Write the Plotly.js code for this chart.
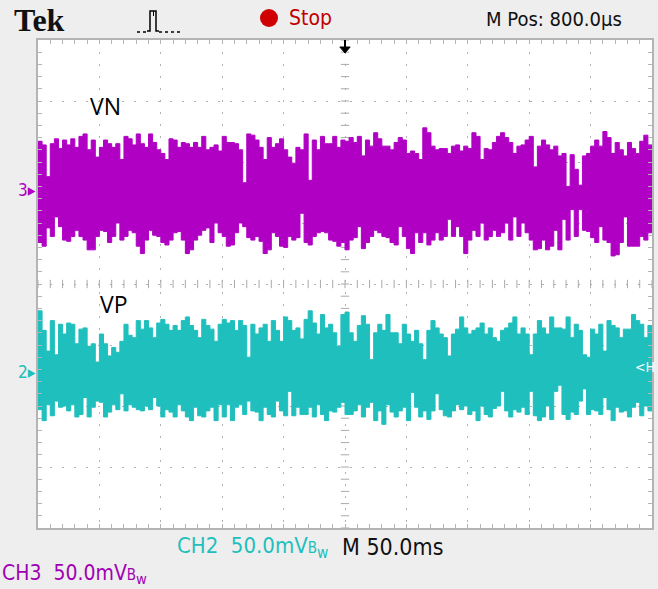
<!DOCTYPE html>
<html>
<head>
<meta charset="utf-8">
<script src="https://cdn.plot.ly/plotly-3.0.1.min.js"></script>
<style>html,body{margin:0;padding:0;background:#eeeeee;}#chart{width:658px;height:589px;}</style>
</head>
<body>
<div id="chart"></div>
<script>
// Time base: 10 divisions x 50 ms
const timeSpanMs = 500;
// CH3 (VN) envelope per column, mV relative to channel ground
const vnTop = [40,37,11,38,42,34,41,37,42,35,44,46,33,41,27,35,41,38,35,38,25,44,42,37,46,38,35,46,39,33,30,25,42,41,35,39,38,35,39,35,44,33,35,37,32,44,39,39,38,33,6,46,45,41,35,25,43,35,38,42,33,27,22,35,33,46,8,41,33,44,38,38,44,35,41,40,
43,39,44,28,41,36,47,42,36,36,33,39,43,41,30,32,30,25,51,47,36,33,34,34,30,36,37,32,36,34,47,44,25,34,33,39,44,47,43,39,30,36,37,41,44,19,36,41,37,33,36,28,30,3,29,17,4,28,30,36,41,36,48,43,30,39,33,28,39,34,30,40,45,37];
const vnBot = [-43,-46,-31,-38,-22,-30,-41,-42,-38,-33,-38,-41,-49,-49,-38,-33,-34,-43,-38,-27,-41,-38,-33,-35,-46,-52,-41,-33,-37,-38,-43,-45,-41,-35,-34,-41,-52,-49,-41,-37,-33,-31,-43,-27,-35,-38,-46,-45,-35,-27,-30,-39,-41,-38,-42,-52,-49,-35,-38,-46,-47,-38,-41,-39,-19,-43,-45,-38,-35,-34,-35,-41,-42,-46,-43,-49,
-41,-39,-30,-48,-43,-38,-33,-35,-38,-39,-43,-45,-30,-38,-48,-52,-35,-43,-35,-45,-41,-35,-41,-38,-24,-38,-30,-38,-52,-41,-33,-38,-27,-41,-38,-33,-38,-35,-27,-41,-22,-38,-27,-35,-41,-49,-48,-41,-49,-46,-33,-49,-24,-41,-16,-38,-16,-33,-34,-39,-43,-30,-41,-43,-54,-53,-43,-22,-46,-46,-46,-38,-41,-35];
// CH2 (VP) envelope per column, mV relative to channel ground
const vpTop = [50,34,17,42,14,39,31,40,39,23,35,36,21,23,8,31,23,13,20,16,25,39,30,28,42,35,42,36,28,40,43,39,34,38,34,42,45,38,34,28,43,38,35,25,39,43,40,42,34,42,38,12,39,31,36,39,25,42,34,25,45,42,34,36,27,43,50,40,31,47,36,39,32,21,47,49,
32,25,38,46,39,10,32,39,34,47,32,32,23,39,31,25,34,23,10,34,42,36,31,28,13,31,35,45,36,31,34,36,40,31,36,28,25,34,36,40,45,31,36,31,14,31,42,36,31,45,36,36,35,45,28,39,34,14,12,35,31,39,17,42,38,36,28,35,35,47,42,39,28,38];
const vpBot = [-31,-40,-27,-36,-24,-29,-28,-32,-27,-37,-35,-21,-37,-29,-24,-25,-37,-33,-27,-31,-18,-32,-27,-29,-31,-32,-28,-31,-21,-28,-37,-31,-33,-37,-27,-32,-37,-40,-29,-36,-37,-32,-29,-40,-27,-37,-27,-40,-29,-27,-35,-24,-32,-33,-40,-29,-35,-37,-24,-32,-36,-16,-36,-29,-35,-35,-29,-37,-27,-35,-40,-32,-33,-29,-25,-35,
-35,-32,-27,-37,-29,-25,-40,-32,-43,-27,-33,-37,-32,-29,-40,-17,-29,-37,-32,-39,-32,-18,-31,-36,-37,-32,-27,-31,-28,-35,-32,-40,-28,-35,-37,-30,-28,-16,-32,-37,-31,-33,-29,-35,-16,-36,-40,-37,-28,-39,-16,-11,-35,-39,-33,-35,-24,-14,-35,-31,-32,-35,-21,-31,-40,-29,-33,-32,-37,-29,-25,-36,-28,-32];
const channelLabels = ['VN', 'VP'];

// ---- styling / placement ----
const magenta = '#b000c4', cyan = '#1fbfbd';
const ch3Offset = 77, ch2Offset = -72;   // display position of channel grounds (mV on screen)
const L = 38, R = 652, T = 40, B = 528;
const px = x => (x - L) / (R - L);
const py = y => (B - y) / (B - T);
const scopeFont = 'Liberation Sans Narrow, DejaVu Sans Condensed, Arial Narrow, sans-serif';
const bw = '<span style="font-size:15px">B</span><sub>w</sub>';

function band(top, bot, offset, color) {
  const n = top.length, dt = timeSpanMs / n;
  const x = top.map((_, i) => i * dt); x.push(timeSpanMs);
  const yt = top.map(v => v + offset); yt.push(yt[n - 1]);
  const yb = bot.map(v => v + offset); yb.push(yb[n - 1]);
  return [
    {x: x, y: yb, mode: 'lines', line: {shape: 'hv', width: 1, color: color}, hoverinfo: 'skip'},
    {x: x, y: yt, mode: 'lines', line: {shape: 'hv', width: 1, color: color}, fill: 'tonexty', fillcolor: color, hoverinfo: 'skip'}
  ];
}

// center graticule tick marks
const cx = [];
for (let t = 0; t <= timeSpanMs; t += 10) { cx.push(t); }
const hy = [];
for (let v = -200; v <= 200; v += 10) { hy.push(v); }
const centerTicksX = {x: cx, y: cx.map(() => 0), mode: 'markers', marker: {symbol: 'line-ns', size: 6, line: {width: 1, color: '#aaaaaa'}}, hoverinfo: 'skip'};
const centerTicksY = {x: hy.map(() => timeSpanMs / 2), y: hy, mode: 'markers', marker: {symbol: 'line-ew', size: 6, line: {width: 1, color: '#aaaaaa'}}, hoverinfo: 'skip'};

const data = [centerTicksX, centerTicksY].concat(band(vnTop, vnBot, ch3Offset, magenta), band(vpTop, vpBot, ch2Offset, cyan));

const ann = (x, y, text, opts) => Object.assign({xref: 'paper', yref: 'paper', x: px(x), y: py(y), text: text, showarrow: false, xanchor: 'left', yanchor: 'middle'}, opts || {});

const layout = {
  width: 658, height: 589,
  margin: {l: L, r: 658 - R, t: T, b: 589 - B},
  paper_bgcolor: '#eeeeee', plot_bgcolor: '#ffffff',
  showlegend: false,
  xaxis: {range: [0, timeSpanMs], dtick: 50, showticklabels: false, showgrid: true, gridcolor: '#b0b0b0', griddash: '2px,10px', gridwidth: 1,
          zeroline: false, showline: true, linecolor: '#b4b4b4', linewidth: 2, mirror: 'ticks', ticks: 'inside', ticklen: 4, tickcolor: '#b4b4b4',
          minor: {dtick: 10, ticks: 'inside', ticklen: 4, tickcolor: '#b4b4b4', showgrid: false}, fixedrange: true},
  yaxis: {range: [-200, 200], dtick: 50, showticklabels: false, showgrid: true, gridcolor: '#b0b0b0', griddash: '2px,10px', gridwidth: 1,
          zeroline: false, showline: true, linecolor: '#b4b4b4', linewidth: 2, mirror: 'ticks', ticks: 'inside', ticklen: 4, tickcolor: '#b4b4b4',
          minor: {dtick: 10, ticks: 'inside', ticklen: 4, tickcolor: '#b4b4b4', showgrid: false}, fixedrange: true},
  shapes: [
    // Stop indicator dot
    {type: 'circle', xref: 'paper', yref: 'paper', x0: px(260), x1: px(278), y0: py(27), y1: py(9), fillcolor: '#d00000', line: {width: 0}},
    // trigger icon
    {type: 'path', xref: 'paper', yref: 'paper', path: `M ${px(147)} ${py(31)} L ${px(150)} ${py(31)} L ${px(150)} ${py(11)} L ${px(156)} ${py(11)} L ${px(156)} ${py(31)} L ${px(159)} ${py(31)}`, line: {color: '#000', width: 1.5}},
    {type: 'path', xref: 'paper', yref: 'paper', path: `M ${px(153.5)} ${py(11)} L ${px(153.5)} ${py(16)}`, line: {color: '#000', width: 1}},
    {type: 'path', xref: 'paper', yref: 'paper', path: `M ${px(137)} ${py(32)} L ${px(147)} ${py(32)}`, line: {color: '#000', width: 1.5, dash: 'dot'}},
    {type: 'path', xref: 'paper', yref: 'paper', path: `M ${px(159)} ${py(32)} L ${px(180)} ${py(32)}`, line: {color: '#000', width: 1.5, dash: 'dot'}},
    // trigger position arrow
    {type: 'path', xref: 'x', yref: 'paper', path: `M ${timeSpanMs/2 - 4.2} ${py(47)} L ${timeSpanMs/2 + 4.2} ${py(47)} L ${timeSpanMs/2} ${py(53)} Z`, fillcolor: '#000', line: {color: '#000', width: 1}},
    {type: 'line', xref: 'x', yref: 'paper', x0: timeSpanMs/2, x1: timeSpanMs/2, y0: py(40), y1: py(48), line: {color: '#000', width: 2}}
  ],
  annotations: [
    ann(12, 20, '<b>Tek</b>', {font: {family: 'Liberation Serif, DejaVu Serif, serif', size: 32, color: '#111'}}),
    ann(287, 18, 'Stop', {font: {family: scopeFont, size: 21, color: '#c00000'}}),
    ann(484, 19, 'M Pos: 800.0µs', {font: {family: scopeFont, size: 20, color: '#111'}}),
    ann(88, 106, channelLabels[0], {font: {family: 'Open Sans, Liberation Sans, sans-serif', size: 23, color: '#000'}}),
    ann(98, 304, channelLabels[1], {font: {family: 'Open Sans, Liberation Sans, sans-serif', size: 23, color: '#000'}}),
    {xref: 'paper', yref: 'y', x: px(38), y: ch3Offset, text: '3▸', showarrow: false, xanchor: 'right', yanchor: 'middle', font: {family: scopeFont, size: 17, color: magenta}},
    {xref: 'paper', yref: 'y', x: px(38), y: ch2Offset, text: '2▸', showarrow: false, xanchor: 'right', yanchor: 'middle', font: {family: scopeFont, size: 17, color: cyan}},
    {xref: 'paper', yref: 'y', x: px(657), y: ch2Offset + 4, text: '<H', showarrow: false, xanchor: 'right', yanchor: 'middle', font: {family: scopeFont, size: 14, color: '#ffffff'}},
    ann(175, 547, 'CH2  50.0mV' + bw, {font: {family: scopeFont, size: 22, color: cyan}}),
    ann(340, 547, 'M 50.0ms', {font: {family: scopeFont, size: 23, color: '#111'}}),
    ann(0, 574, 'CH3  50.0mV' + bw, {font: {family: scopeFont, size: 21, color: '#a000b4'}})
  ]
};

Plotly.newPlot('chart', data, layout, {staticPlot: true, displayModeBar: false});
</script>
</body>
</html>
